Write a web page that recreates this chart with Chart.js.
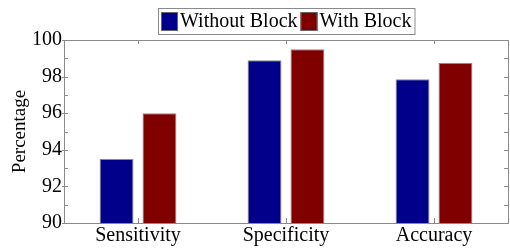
<!DOCTYPE html>
<html>
<head>
<meta charset="utf-8">
<script src="https://cdn.jsdelivr.net/npm/chart.js@4/dist/chart.umd.min.js"></script>
<style>
html,body{margin:0;padding:0;background:#fff;}
canvas{display:block;}
</style>
</head>
<body>
<canvas id="c" width="510" height="249"></canvas>
<script>
const categories=['Sensitivity','Specificity','Accuracy'];
const seriesNames=['Without Block','With Block'];
const withoutBlock=[93.5,98.9,97.85];
const withBlock=[96.0,99.5,98.75];
const colors=['#00008b','#800000'];
const yTicks=[90,92,94,96,98,100];

const FONT='Liberation Serif';
const AXIS='#8a8a8a';

// frame, inward ticks and boxed legend
const framePlugin={id:'frame',afterDatasetsDraw(chart){
  const ctx=chart.ctx,a=chart.chartArea,ys=chart.scales.y,xs=chart.scales.x;
  ctx.save();ctx.strokeStyle=AXIS;ctx.lineWidth=1;
  ctx.beginPath();
  ctx.moveTo(a.left,a.top+0.5);ctx.lineTo(a.right+0.5,a.top+0.5);
  ctx.moveTo(a.right+0.5,a.top);ctx.lineTo(a.right+0.5,a.bottom);
  for(let v=ys.min;v<=ys.max;v++){
    const y=Math.round(ys.getPixelForValue(v))+0.5;
    const major=yTicks.includes(v);
    ctx.moveTo(a.left-(major?2:0),y);ctx.lineTo(a.left+4,y);
    ctx.moveTo(a.right-4,y);ctx.lineTo(a.right,y);
  }
  categories.forEach((c,i)=>{
    const x=Math.round(xs.getPixelForValue(i))+0.5;
    ctx.moveTo(x,a.top);ctx.lineTo(x,a.top+4);
    ctx.moveTo(x,a.bottom);ctx.lineTo(x,a.bottom-5);
  });
  ctx.stroke();
  // legend
  ctx.font='20px "'+FONT+'"';ctx.textBaseline='middle';ctx.fillStyle='#000';
  const bw=17,bh=19,gap=2,itemGap=3,pad=3;
  const widths=seriesNames.map(n=>bw+gap+ctx.measureText(n).width);
  const total=widths.reduce((s,w)=>s+w,0)+itemGap*(widths.length-1)+pad*2;
  let x=Math.round((a.left+a.right)/2-total/2),top=8,h=26;
  ctx.strokeStyle='#8a8a8a';ctx.strokeRect(x+0.5,top+0.5,total,h);
  x+=pad;
  seriesNames.forEach((n,i)=>{
    ctx.fillStyle=colors[i];ctx.fillRect(x,top+4,bw,bh);
    ctx.strokeStyle='#666';ctx.strokeRect(x+0.5,top+4.5,bw-1,bh-1);
    ctx.fillStyle='#000';ctx.fillText(n,x+bw+gap,top+h/2+1);
    x+=widths[i]+itemGap;
  });
  ctx.restore();
}};

new Chart(document.getElementById('c'),{
  type:'bar',
  data:{labels:categories,datasets:[
    {label:seriesNames[0],data:withoutBlock,backgroundColor:colors[0],borderColor:'#888',borderWidth:1,borderSkipped:'bottom'},
    {label:seriesNames[1],data:withBlock,backgroundColor:colors[1],borderColor:'#888',borderWidth:1,borderSkipped:'bottom'}
  ]},
  options:{
    responsive:false,animation:false,
    categoryPercentage:0.58,barPercentage:0.79,
    layout:{padding:{top:40,right:2,left:0,bottom:0}},
    plugins:{legend:{display:false},tooltip:{enabled:false}},
    scales:{
      x:{
        grid:{display:false,drawTicks:false},
        border:{display:true,color:AXIS},
        ticks:{font:{family:FONT,size:20},color:'#000',padding:1},
        afterFit:s=>{s.height=26;}
      },
      y:{
        min:90,max:100,
        grid:{display:false,drawTicks:false},
        border:{display:true,color:AXIS},
        ticks:{stepSize:2,font:{family:FONT,size:20},color:'#000',padding:2},
        title:{display:true,text:'Percentage',font:{family:FONT,size:19},color:'#000',padding:{top:9}},
        afterFit:s=>{s.width=64;}
      }
    }
  },
  plugins:[framePlugin]
});
</script>
</body>
</html>
